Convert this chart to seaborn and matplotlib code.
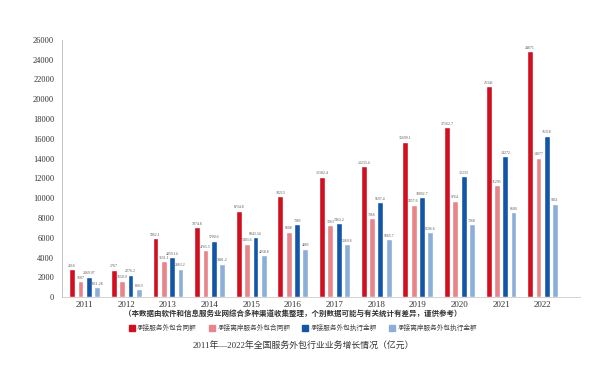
import pandas as pd
import matplotlib.pyplot as plt
import seaborn as sns

years = ['2011', '2012', '2013', '2014', '2015', '2016', '2017', '2018', '2019', '2020', '2021', '2022']
contract = [2816, 2767, 5962.1, 7074.8, 8734.8, 10213, 12182.4, 13233.4, 15699.1, 17162.7, 21341, 24871]
offshore_contract = [1607, 1650.9, 3651.1, 4765.5, 5403.6, 6608, 7263, 7966, 9357.6, 9764.0, 11295, 14077]
execution = [2069.97, 2276.2, 4059.14, 5700.6, 6043.34, 7385, 7463.2, 9597.4, 10092.7, 12233.0, 14272, 16318]
offshore_execution = [1011.28, 800.9, 2863.2, 3401.2, 4258.8, 4885, 5369.8, 5865.7, 6596.6, 7368, 8600, 9451]

series_names = ['承接服务外包合同额', '承接离岸服务外包合同额', '承接服务外包执行金额', '承接离岸服务外包执行金额']
colors = ['#d0101f', '#e8858b', '#1356a8', '#8cafd8']

df = pd.DataFrame({
    '年份': years * 4,
    '金额': contract + offshore_contract + execution + offshore_execution,
    '类别': [n for n in series_names for _ in years],
})

sns.set_style('white')
plt.rcParams['font.family'] = ['Liberation Serif', 'Noto Sans CJK SC']

fig = plt.figure(figsize=(6, 3.8), dpi=100)
ax = fig.add_axes([0.103, 0.218, 0.864, 0.677])

sns.barplot(data=df, x='年份', y='金额', hue='类别', palette=colors, saturation=1,
            width=0.8, gap=0.3, ax=ax, legend=False)

# tiny value labels above bars
for cont in ax.containers:
    ax.bar_label(cont, labels=[f'{v:g}' for v in cont.datavalues],
                 fontsize=2.8, color='#555555', padding=1)

ax.set_ylim(0, 26000)
ax.set_yticks(range(0, 26001, 2000))
ax.set_xlim(-0.55, 11.9)
ax.set_xlabel('')
ax.set_ylabel('')
ax.tick_params(axis='y', labelsize=6, colors='#333333', length=2, width=0.5)
ax.tick_params(axis='x', labelsize=6.5, colors='#333333', length=0, pad=3)
ax.set_xticks([i + 0.5 for i in range(12)], minor=True)
ax.tick_params(axis='x', which='minor', length=3, width=0.5, color='#bbbbbb', direction='in')

for s in ['top', 'right']:
    ax.spines[s].set_visible(False)
ax.spines['left'].set_color('#bbbbbb')
ax.spines['left'].set_linewidth(0.6)
ax.spines['bottom'].set_color('#cccccc')
ax.spines['bottom'].set_linewidth(0.6)

fig.text(0.488, 0.175, '（本数据由软件和信息服务业网综合多种渠道收集整理，个别数据可能与有关统计有差异，谨供参考）',
         ha='center', va='center', fontsize=5.4, fontweight='bold', color='#333333')

handles = [plt.Rectangle((0, 0), 1, 1, color=c) for c in colors]
fig.legend(handles, series_names, loc='center', bbox_to_anchor=(0.505, 0.138), ncol=4,
           frameon=False, fontsize=4.8, handlelength=0.9, handleheight=0.9,
           columnspacing=1.8, handletextpad=0.4, labelcolor='#444444')

fig.text(0.505, 0.09, '2011年—2022年全国服务外包行业业务增长情况（亿元）',
         ha='center', va='center', fontsize=6.4, color='#333333')

fig.savefig('out.png', dpi=100)
